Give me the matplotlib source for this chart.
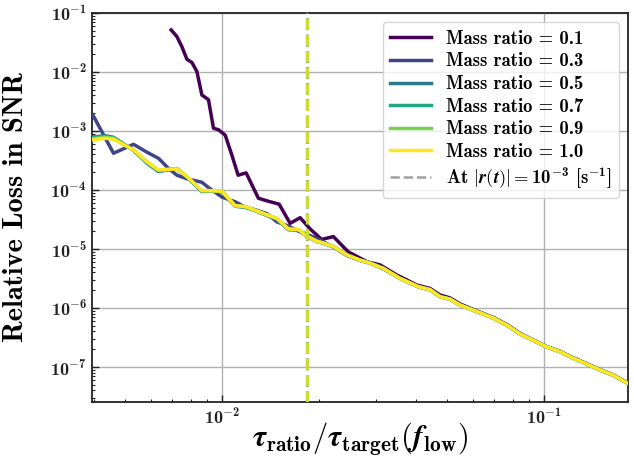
import numpy as np
import matplotlib
matplotlib.use("Agg")
import matplotlib.pyplot as plt
from matplotlib.ticker import LogLocator, NullFormatter, FixedLocator, FixedFormatter
from matplotlib.lines import Line2D

plt.rcParams['font.family'] = 'cmb10'
plt.rcParams['mathtext.fontset'] = 'cm'
plt.rcParams['axes.unicode_minus'] = False
plt.rcParams['axes.formatter.use_mathtext'] = True

# ---------------- data ----------------
mass_ratios = [0.1, 0.3, 0.5, 0.7, 0.9, 1.0]

x_q01 = [0.006945, 0.007233, 0.007495, 0.007770, 0.008052, 0.008344, 0.008650, 0.009067,
         0.009397, 0.009739, 0.01022, 0.01072, 0.01121, 0.01187, 0.01296, 0.01389,
         0.01503, 0.01626, 0.01747, 0.01876, 0.02037, 0.02216, 0.02467, 0.02814,
         0.03095, 0.03487, 0.04024, 0.04426, 0.04753, 0.05106, 0.05484, 0.06180,
         0.06957, 0.07658, 0.08424, 0.09264, 0.1020, 0.1121, 0.1233, 0.1357,
         0.1493, 0.1641, 0.1827]
y_q01 = [0.0515, 0.0398, 0.0269, 0.0164, 0.0145, 0.0102, 0.00407, 0.00339,
         1.11e-3, 1.05e-3, 8.51e-4, 3.89e-4, 1.78e-4, 1.95e-4, 7.24e-5, 6.46e-5,
         5.75e-5, 2.72e-5, 3.39e-5, 2.19e-5, 1.45e-5, 1.62e-5, 8.91e-6, 6.10e-6,
         5.37e-6, 3.63e-6, 2.45e-6, 2.14e-6, 1.66e-6, 1.48e-6, 1.17e-6, 8.91e-7,
         6.92e-7, 5.25e-7, 3.72e-7, 2.85e-7, 2.21e-7, 1.84e-7, 1.43e-7, 1.14e-7,
         9.02e-8, 7.33e-8, 5.31e-8]

x_main = [0.003966, 0.004330, 0.004596, 0.004927, 0.005303, 0.005836, 0.006342, 0.006798,
          0.007233, 0.007770, 0.008650, 0.009067, 0.009979, 0.01097, 0.01179, 0.01275,
          0.01377, 0.01479, 0.01607, 0.01726, 0.01832, 0.01968, 0.02064, 0.02216,
          0.02439, 0.02683, 0.02881, 0.03169, 0.03572, 0.04071, 0.04426, 0.04753,
          0.05106, 0.05484, 0.06180, 0.06957, 0.07658, 0.08424, 0.09264, 0.1020,
          0.1121, 0.1233, 0.1357, 0.1493, 0.1641, 0.1827]

y_q03 = [1.86e-3, 7.64e-4, 4.19e-4, 4.97e-4, 5.94e-4, 4.37e-4, 3.44e-4, 2.34e-4,
         1.78e-4, 1.55e-4, 1.35e-4, 1.10e-4, 7.59e-5, 6.31e-5, 5.13e-5, 4.57e-5,
         3.98e-5, 2.88e-5, 2.45e-5, 2.00e-5, 1.78e-5, 1.51e-5, 1.32e-5, 1.08e-5,
         7.8e-6, 6.4e-6, 5.8e-6, 4.6e-6, 3.2e-6, 2.3e-6, 2.08e-6, 1.58e-6,
         1.43e-6, 1.13e-6, 8.8e-7, 6.8e-7, 5.2e-7, 3.65e-7, 2.84e-7, 2.2e-7,
         1.83e-7, 1.42e-7, 1.13e-7, 8.95e-8, 7.28e-8, 5.28e-8]

y_q05 = [7.9e-4, 8.3e-4, 7.8e-4, 6.1e-4, 4.7e-4, 2.85e-4, 2.05e-4, 2.2e-4,
         2.3e-4, 1.65e-4, 9.4e-5, 9.6e-5, 9.4e-5, 5.3e-5, 5.1e-5, 4.4e-5,
         3.7e-5, 3.2e-5, 2.12e-5, 2.1e-5, 1.64e-5, 1.34e-5, 1.25e-5, 1.09e-5,
         7.9e-6, 6.44e-6, 5.74e-6, 4.66e-6, 3.15e-6, 2.28e-6, 2.03e-6, 1.54e-6,
         1.41e-6, 1.12e-6, 8.7e-7, 6.75e-7, 5.12e-7, 3.62e-7, 2.82e-7, 2.19e-7,
         1.82e-7, 1.41e-7, 1.12e-7, 8.9e-8, 7.23e-8, 5.24e-8]

y_q07 = [7.7e-4, 8.1e-4, 7.7e-4, 6.0e-4, 4.75e-4, 2.9e-4, 2.1e-4, 2.2e-4,
         2.3e-4, 1.67e-4, 9.5e-5, 9.6e-5, 9.45e-5, 5.35e-5, 5.15e-5, 4.42e-5,
         3.75e-5, 3.25e-5, 2.15e-5, 2.12e-5, 1.65e-5, 1.35e-5, 1.25e-5, 1.10e-5,
         7.92e-6, 6.45e-6, 5.75e-6, 4.67e-6, 3.16e-6, 2.29e-6, 2.04e-6, 1.55e-6,
         1.41e-6, 1.12e-6, 8.71e-7, 6.76e-7, 5.13e-7, 3.63e-7, 2.82e-7, 2.19e-7,
         1.82e-7, 1.41e-7, 1.12e-7, 8.91e-8, 7.24e-8, 5.25e-8]

y_q09 = [7.4e-4, 7.8e-4, 7.5e-4, 5.95e-4, 4.77e-4, 2.95e-4, 2.15e-4, 2.22e-4,
         2.28e-4, 1.68e-4, 9.6e-5, 9.7e-5, 9.5e-5, 5.4e-5, 5.2e-5, 4.45e-5,
         3.78e-5, 3.28e-5, 2.17e-5, 2.13e-5, 1.66e-5, 1.35e-5, 1.26e-5, 1.10e-5,
         7.94e-6, 6.46e-6, 5.75e-6, 4.68e-6, 3.16e-6, 2.29e-6, 2.04e-6, 1.55e-6,
         1.41e-6, 1.12e-6, 8.71e-7, 6.76e-7, 5.13e-7, 3.63e-7, 2.82e-7, 2.19e-7,
         1.82e-7, 1.41e-7, 1.12e-7, 8.91e-8, 7.24e-8, 5.25e-8]

y_q10 = [7.08e-4, 7.52e-4, 7.24e-4, 5.89e-4, 4.79e-4, 3.02e-4, 2.19e-4, 2.24e-4,
         2.27e-4, 1.70e-4, 9.77e-5, 9.77e-5, 9.55e-5, 5.42e-5, 5.25e-5, 4.47e-5,
         3.80e-5, 3.31e-5, 2.19e-5, 2.14e-5, 1.66e-5, 1.35e-5, 1.26e-5, 1.10e-5,
         7.94e-6, 6.46e-6, 5.75e-6, 4.68e-6, 3.16e-6, 2.29e-6, 2.04e-6, 1.55e-6,
         1.41e-6, 1.12e-6, 8.71e-7, 6.76e-7, 5.13e-7, 3.63e-7, 2.82e-7, 2.19e-7,
         1.82e-7, 1.41e-7, 1.12e-7, 8.91e-8, 7.24e-8, 5.25e-8]

crossing_x = [0.01836, 0.01837, 0.01837, 0.01837, 0.01837, 0.01837]

x_ticks = [1e-2, 1e-1]
x_tick_labels = [r'$\mathdefault{10^{\mathbf{-}2}}$', r'$\mathdefault{10^{\mathbf{-}1}}$']
y_ticks = [1e-7, 1e-6, 1e-5, 1e-4, 1e-3, 1e-2, 1e-1]
y_tick_labels = [r'$\mathdefault{10^{\mathbf{-}7}}$', r'$\mathdefault{10^{\mathbf{-}6}}$',
                 r'$\mathdefault{10^{\mathbf{-}5}}$', r'$\mathdefault{10^{\mathbf{-}4}}$',
                 r'$\mathdefault{10^{\mathbf{-}3}}$', r'$\mathdefault{10^{\mathbf{-}2}}$',
                 r'$\mathdefault{10^{\mathbf{-}1}}$']

series_x = [x_q01, x_main, x_main, x_main, x_main, x_main]
series_y = [y_q01, y_q03, y_q05, y_q07, y_q09, y_q10]

# ---------------- plot ----------------
colors = plt.cm.viridis(np.linspace(0, 1, len(mass_ratios)))

fig = plt.figure(figsize=(6.34, 4.57), dpi=100)
ax = fig.add_axes([0.1451, 0.1204, 0.8454, 0.8512])

for q, xs, ys, c in zip(mass_ratios, series_x, series_y, colors):
    ax.plot(xs, ys, color=c, lw=2.5, label=f'Mass ratio = {q}', zorder=3)

for xc, c in zip(crossing_x, colors):
    ax.axvline(xc, color=c, ls='--', lw=2.2, alpha=0.7, zorder=4)

ax.set_xscale('log')
ax.set_yscale('log')
ax.set_xlim(0.00394, 0.1824)
ax.set_ylim(2.55e-8, 1e-1)

ax.xaxis.set_major_locator(FixedLocator(x_ticks))
ax.xaxis.set_major_formatter(FixedFormatter(x_tick_labels))
ax.yaxis.set_major_locator(FixedLocator(y_ticks))
ax.yaxis.set_major_formatter(FixedFormatter(y_tick_labels))
ax.xaxis.set_minor_locator(LogLocator(base=10, subs=np.arange(2, 10), numticks=20))
ax.yaxis.set_minor_locator(LogLocator(base=10, subs=np.arange(2, 10), numticks=20))
ax.xaxis.set_minor_formatter(NullFormatter())
ax.yaxis.set_minor_formatter(NullFormatter())

ax.tick_params(which='major', direction='in', length=5, width=1.0, labelsize=13, colors='#222222')
ax.tick_params(which='minor', direction='in', length=2.5, width=0.8, colors='#222222')
ax.grid(True, which='major', color='#b0b0b0', lw=1.0, zorder=0)
for s in ax.spines.values():
    s.set_color('#222222')
    s.set_linewidth(1.3)

ax.set_ylabel('Relative Loss in SNR', fontsize=20.5)
ax.yaxis.set_label_coords(-0.118, 0.5)
ax.set_xlabel(r'$\boldsymbol{\tau}_{\mathbf{ratio}}/\boldsymbol{\tau}_{\mathbf{target}}(\boldsymbol{f}_{\mathbf{low}})$',
              fontsize=22)
ax.xaxis.set_label_coords(0.5, -0.047)

handles, labels = ax.get_legend_handles_labels()
handles.append(Line2D([], [], color='#a0a0a0', ls='--', lw=1.8))
labels.append(r'At $|\boldsymbol{r}(\boldsymbol{t})| = \mathdefault{10^{\mathbf{-}3}}$ [s$^{\mathdefault{\mathbf{-}1}}$]')
leg = ax.legend(handles, labels, loc='upper right', fontsize=13.4, handlelength=2.2,
                framealpha=0.8, edgecolor='#cccccc', fancybox=True, labelspacing=0.25,
                handletextpad=0.8)
leg.get_frame().set_linewidth(1.0)
for line in leg.get_lines():
    line.set_linewidth(2.5 if line.get_linestyle() == '-' else 1.8)

fig.savefig('out.png', dpi=100)
